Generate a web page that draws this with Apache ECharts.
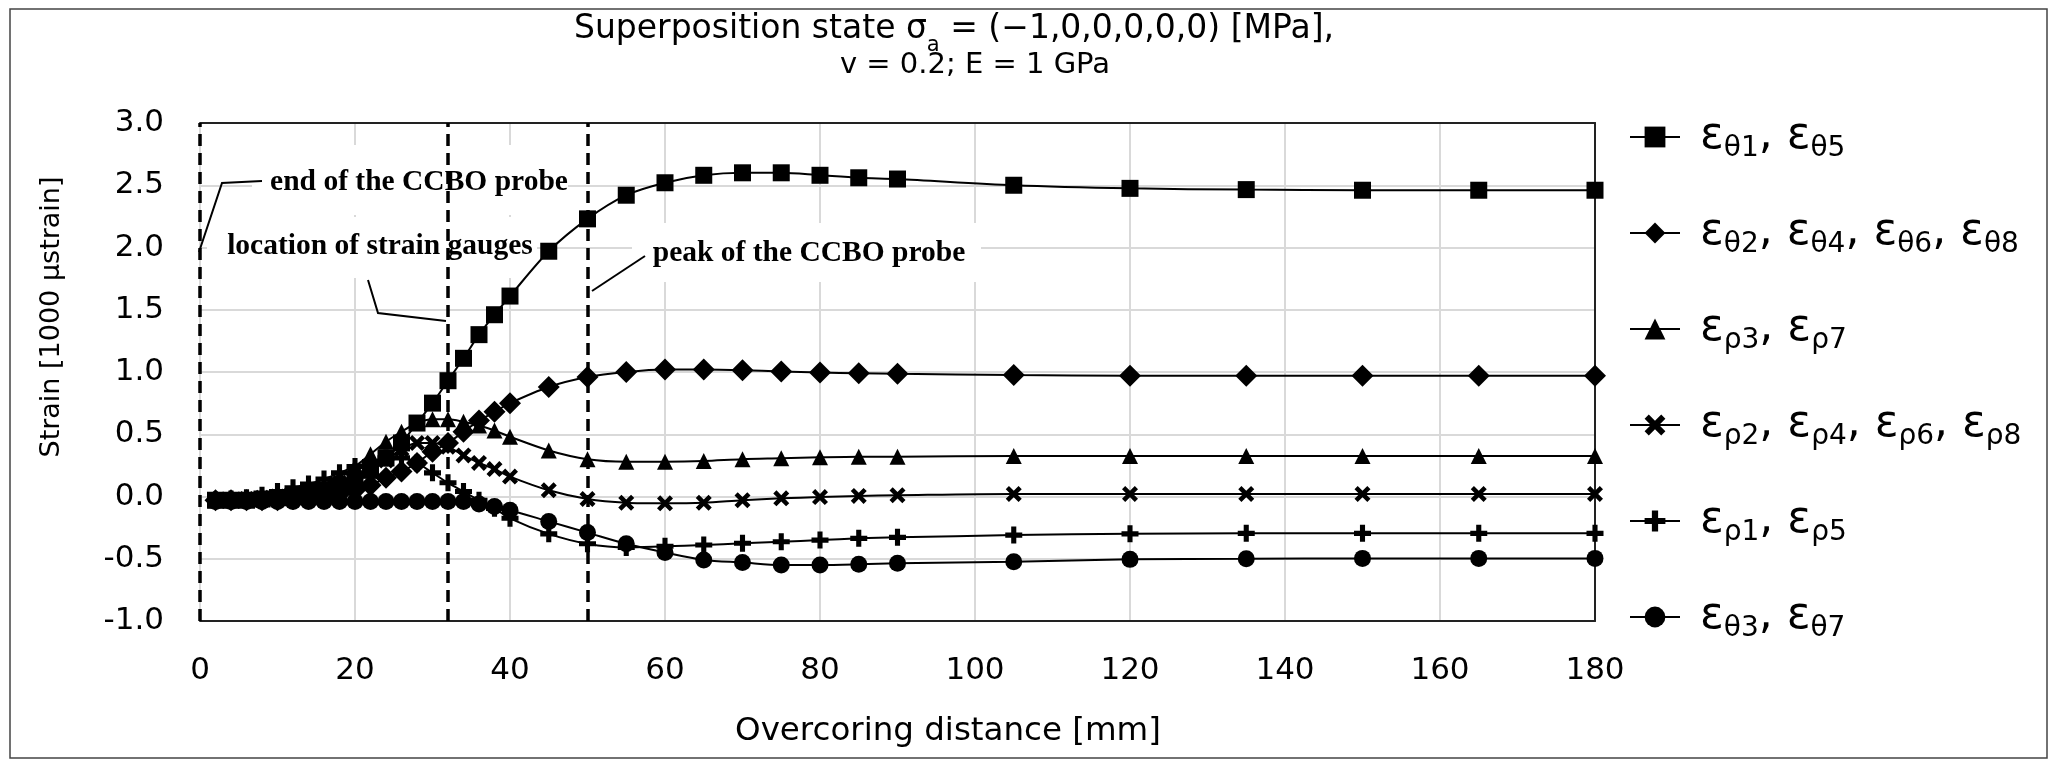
<!DOCTYPE html>
<html><head><meta charset="utf-8">
<script src="https://cdn.jsdelivr.net/npm/echarts@6/dist/echarts.min.js"></script>
<style>html,body{margin:0;padding:0;background:#fff}#c{width:2054px;height:761px}</style>
</head><body><div id="c"></div>
<script>
// ---- data ----
const xValues = [2,4,6,8,10,12,14,16,18,20,22,24,26,28,30,32,34,36,38,40,45,50,55,60,65,70,75,80,85,90,105,120,135,150,165,180];
const epsTheta1_5 = [-0.03,-0.03,-0.03,-0.02,-0.01,0.0,0.02,0.04,0.08,0.13,0.21,0.31,0.43,0.59,0.75,0.93,1.11,1.30,1.46,1.61,1.97,2.23,2.42,2.52,2.58,2.60,2.60,2.58,2.56,2.55,2.50,2.475,2.465,2.46,2.46,2.46];
const epsTheta2_4_6_8 = [-0.03,-0.03,-0.03,-0.03,-0.03,-0.02,-0.01,0.0,0.02,0.05,0.09,0.15,0.20,0.27,0.36,0.43,0.52,0.61,0.68,0.75,0.88,0.96,1.0,1.02,1.02,1.015,1.005,0.995,0.99,0.985,0.975,0.97,0.97,0.97,0.97,0.97];
const epsRho3_7 = [-0.03,-0.03,-0.02,-0.01,0.01,0.03,0.06,0.10,0.16,0.24,0.34,0.44,0.52,0.59,0.62,0.62,0.60,0.57,0.53,0.48,0.37,0.30,0.28,0.28,0.285,0.30,0.307,0.315,0.32,0.32,0.325,0.325,0.325,0.325,0.325,0.325];
const epsRho2_4_6_8 = [-0.03,-0.03,-0.02,-0.01,0.0,0.02,0.04,0.07,0.11,0.16,0.22,0.29,0.38,0.43,0.43,0.40,0.33,0.27,0.22,0.16,0.05,-0.02,-0.05,-0.055,-0.05,-0.03,-0.015,-0.005,0.005,0.01,0.02,0.02,0.02,0.02,0.02,0.02];
const epsRho1_5 = [-0.03,-0.02,-0.01,0.01,0.04,0.07,0.10,0.14,0.19,0.24,0.28,0.31,0.31,0.27,0.19,0.11,0.04,-0.03,-0.095,-0.175,-0.30,-0.38,-0.41,-0.40,-0.39,-0.376,-0.363,-0.35,-0.336,-0.328,-0.31,-0.30,-0.296,-0.296,-0.296,-0.296];
const epsTheta3_7 = [-0.04,-0.04,-0.04,-0.04,-0.04,-0.04,-0.04,-0.04,-0.04,-0.04,-0.04,-0.04,-0.04,-0.04,-0.04,-0.04,-0.04,-0.06,-0.08,-0.11,-0.20,-0.29,-0.38,-0.45,-0.51,-0.53,-0.55,-0.55,-0.545,-0.537,-0.524,-0.505,-0.50,-0.497,-0.497,-0.497];
const seriesNames = ['εθ1, εθ5','εθ2, εθ4, εθ6, εθ8','ερ3, ερ7','ερ2, ερ4, ερ6, ερ8','ερ1, ερ5','εθ3, εθ7'];
const seriesValues = [epsTheta1_5, epsTheta2_4_6_8, epsRho3_7, epsRho2_4_6_8, epsRho1_5, epsTheta3_7];
const xAxisRange = [0, 180, 20];
const yAxisRange = [-1, 3, 0.5];
const guideLinesX = [0, 32, 50];
const titleLine1 = ['Superposition state σ', 'a', ' = (−1,0,0,0,0,0) [MPa],'];
const titleLine2 = 'v = 0.2; E = 1 GPa';
const xAxisTitle = 'Overcoring distance [mm]';
const yAxisTitle = 'Strain [1000 μstrain]';
const annotationTexts = ['end of the CCBO probe', 'location of strain gauges', 'peak of the CCBO probe'];

// ---- styling ----
const FONT = 'DejaVu Sans';
const ANN_FONT = 'bold 29.5px "Liberation Serif"';
const PLUS = 'path://M3.5,0H6.5V3.5H10V6.5H6.5V10H3.5V6.5H0V3.5H3.5Z';
const CROSS = 'path://M0,2L2,0L5,3L8,0L10,2L7,5L10,8L8,10L5,7L2,10L0,8L3,5Z';
const symbols = [['rect', 17], ['diamond', 22], ['triangle', 16], [CROSS, 16], [PLUS, 17], ['circle', 17]];

const chart = echarts.init(document.getElementById('c'), null, {renderer: 'canvas'});

const series = seriesNames.map((name, i) => ({
  name, type: 'line', smooth: 0.3,
  data: xValues.map((x, k) => [x, seriesValues[i][k]]),
  symbol: symbols[i][0], symbolSize: symbols[i][1],
  showAllSymbol: true,
  lineStyle: {color: '#000', width: 2},
  itemStyle: {color: '#000', borderWidth: 0},
  emphasis: {disabled: true},
  animation: false,
  z: 5 + i
}));
// dashed guide lines on a data-less helper series (kept beneath the annotation boxes)
series.push({
  name: 'guides', type: 'line', data: [], z: 2, animation: false,
  markLine: {
    silent: true, symbol: ['none', 'none'], label: {show: false},
    lineStyle: {color: '#000', width: 3.5, type: [12, 7]},
    data: guideLinesX.map(v => ({xAxis: v})),
    animation: false
  }
});

function legendFmt(name) {
  const parts = name.split(', ');
  return parts.map((p, j) => '{' + (j === 0 ? 'e0' : 'e') + '|' + p[0] + '}{s|' + p.slice(1) + '}').join('{e|, }');
}

const option = {
  backgroundColor: '#fff',
  animation: false,
  title: [
    {text: '{n|' + titleLine1[0] + '}{sub|' + titleLine1[1] + '}{n|' + titleLine1[2] + '}',
     left: 949, top: 8, textAlign: 'center',
     textStyle: {fontWeight: 'normal', rich: {
       n: {fontFamily: FONT, fontSize: 33, fontWeight: 'normal', color: '#000', lineHeight: 40, verticalAlign: 'top'},
       sub: {fontFamily: FONT, fontSize: 21, fontWeight: 'normal', color: '#000', lineHeight: 22, padding: [22,0,0,0], verticalAlign: 'top'}
     }}},
    {text: titleLine2, left: 970, top: 42, textAlign: 'center',
     textStyle: {fontFamily: FONT, fontSize: 29, color: '#000', fontWeight: 'normal', lineHeight: 36}}
  ],
  grid: {left: 200, right: 459, top: 123, bottom: 140, containLabel: false},
  legend: {
    orient: 'vertical', left: 1624, top: 110, itemWidth: 50, itemHeight: 26, itemGap: 36,
    data: seriesNames, selectedMode: false,
    formatter: legendFmt,
    textStyle: {rich: {
      e0: {fontFamily: FONT, fontSize: 44, color: '#000', lineHeight: 44, padding: [0,0,16,15], verticalAlign: 'top'},
      e: {fontFamily: FONT, fontSize: 44, color: '#000', lineHeight: 44, padding: [0,0,16,0], verticalAlign: 'top'},
      s: {fontFamily: FONT, fontSize: 28, color: '#000', lineHeight: 30, padding: [20,0,0,0], verticalAlign: 'top'}
    }}
  },
  xAxis: [{
    type: 'value', min: xAxisRange[0], max: xAxisRange[1], interval: xAxisRange[2],
    axisLine: {show: true, onZero: false, lineStyle: {color: '#222', width: 2}},
    axisTick: {show: false},
    axisLabel: {fontFamily: FONT, fontSize: 31, color: '#000', margin: 34},
    splitLine: {show: true, lineStyle: {color: '#d9d9d9', width: 2}}
  }, {
    type: 'value', position: 'top', min: xAxisRange[0], max: xAxisRange[1], interval: xAxisRange[2],
    axisLine: {show: true, onZero: false, lineStyle: {color: '#222', width: 2}},
    axisTick: {show: false}, axisLabel: {show: false}, splitLine: {show: false}
  }],
  yAxis: [{
    type: 'value', min: yAxisRange[0], max: yAxisRange[1], interval: yAxisRange[2],
    axisLine: {show: false},
    axisTick: {show: false},
    axisLabel: {fontFamily: FONT, fontSize: 31, color: '#000', margin: 36, formatter: v => v.toFixed(1)},
    splitLine: {show: true, lineStyle: {color: '#d9d9d9', width: 2}}
  }, {
    type: 'value', position: 'right', min: yAxisRange[0], max: yAxisRange[1], interval: yAxisRange[2],
    axisLine: {show: true, onZero: false, lineStyle: {color: '#222', width: 2}},
    axisTick: {show: false}, axisLabel: {show: false}, splitLine: {show: false}
  }],
  series,
  graphic: [
    {type: 'rect', z: 0, shape: {x: 10, y: 9, width: 2037, height: 749}, style: {fill: 'none', stroke: '#444', lineWidth: 1.5}, silent: true},
    {type: 'text', z: 10, x: 52, y: 317, rotation: Math.PI / 2, style: {text: yAxisTitle, font: '27px "DejaVu Sans"', textAlign: 'center', textVerticalAlign: 'middle', fill: '#000'}, silent: true},
    {type: 'text', z: 10, x: 948, y: 732, style: {text: xAxisTitle, font: '32.5px "DejaVu Sans"', textAlign: 'center', textVerticalAlign: 'middle', fill: '#000'}, silent: true},
    {type: 'rect', z: 3, shape: {x: 252, y: 145, width: 316, height: 70}, style: {fill: '#fff'}, silent: true},
    {type: 'rect', z: 3, shape: {x: 207, y: 217, width: 330, height: 61}, style: {fill: '#fff'}, silent: true},
    {type: 'rect', z: 3, shape: {x: 632, y: 223, width: 349, height: 59}, style: {fill: '#fff'}, silent: true},
    {type: 'text', z: 51, style: {text: annotationTexts[0], x: 419, y: 182, font: ANN_FONT, textAlign: 'center', textVerticalAlign: 'middle', fill: '#000'}, silent: true},
    {type: 'text', z: 51, style: {text: annotationTexts[1], x: 380, y: 246, font: ANN_FONT, textAlign: 'center', textVerticalAlign: 'middle', fill: '#000'}, silent: true},
    {type: 'text', z: 51, style: {text: annotationTexts[2], x: 809, y: 253, font: ANN_FONT, textAlign: 'center', textVerticalAlign: 'middle', fill: '#000'}, silent: true},
    {type: 'polyline', z: 51, shape: {points: [[262,181],[222,183],[199,252]]}, style: {stroke: '#000', lineWidth: 2, fill: null}, silent: true},
    {type: 'polyline', z: 51, shape: {points: [[368,280],[378,313],[446,321]]}, style: {stroke: '#000', lineWidth: 2, fill: null}, silent: true},
    {type: 'polyline', z: 51, shape: {points: [[645,256],[592,291]]}, style: {stroke: '#000', lineWidth: 2, fill: null}, silent: true}
  ]
};
chart.setOption(option);
</script></body></html>
